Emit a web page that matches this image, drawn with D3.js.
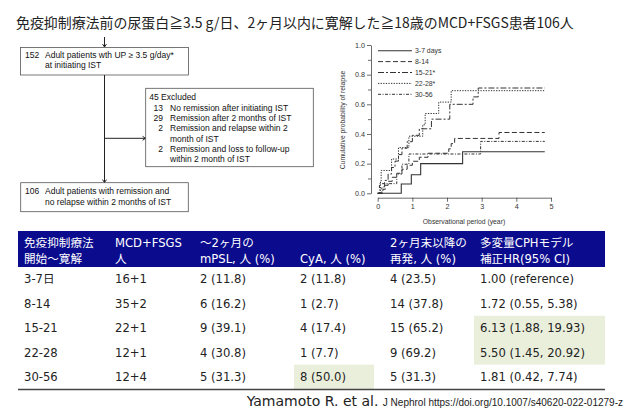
<!DOCTYPE html>
<html>
<head>
<meta charset="utf-8">
<script src="https://cdn.jsdelivr.net/npm/d3@7"></script>
<style>
  body { margin: 0; background: #fff; }
</style>
</head>
<body>
<svg id="slide" width="625" height="410"></svg>
<script>
// ---- data ----
const titleText = "免疫抑制療法前の尿蛋白≧3.5 g/日、2ヶ月以内に寛解した≧18歳のMCD+FSGS患者106人";

const topBox = ["152", "Adult patients wth UP ≥ 3.5 g/day*", "at initiating IST"];
const excludedHead = "45 Excluded";
const excludedCounts = ["13", "29", "2", "2"];
const excludedReasons = [
  ["No remission after initiating IST"],
  ["Remission after 2 months of IST"],
  ["Remission and relapse within 2", "month of IST"],
  ["Remission and loss to follow-up", "within 2 month of IST"]
];
const bottomBox = ["106", "Adult patients with remission and", "no relapse within 2 months of IST"];

// cumulative probability of relapse, [year, probability] step points
const groups = ["3-7 days", "8-14", "15-21*", "22-28*", "30-56"];
const relapse3to7 = [[0, 0], [0.68, 0.0625], [0.97, 0.125], [1.24, 0.2], [2.45, 0.28], [4.82, 0.28]];
const relapse8to14 = [[0, 0], [0.15, 0.027], [0.22, 0.054], [0.3, 0.081], [0.42, 0.108], [0.55, 0.135],
  [0.7, 0.162], [0.85, 0.189], [1.0, 0.216], [1.2, 0.243], [1.45, 0.27], [2.05, 0.3], [2.12, 0.335],
  [2.22, 0.37], [3.5, 0.41], [4.82, 0.41]];
const relapse15to21 = [[0, 0], [0.12, 0.043], [0.2, 0.087], [0.3, 0.13], [0.4, 0.174], [0.5, 0.217],
  [0.6, 0.261], [0.7, 0.304], [0.85, 0.348], [1.0, 0.391], [1.2, 0.435], [1.55, 0.5], [2.08, 0.6],
  [2.75, 0.65], [2.9, 0.71], [4.82, 0.71]];
const relapse22to28 = [[0, 0], [0.08, 0.077], [0.1, 0.154], [0.4, 0.231], [0.6, 0.308], [0.9, 0.385],
  [1.3, 0.462], [1.37, 0.538], [1.76, 0.615], [2.12, 0.692], [4.82, 0.692]];
const relapse30to56 = [[0, 0], [0.05, 0.065], [0.55, 0.13], [0.7, 0.196], [0.9, 0.265], [2.97, 0.35], [4.82, 0.35]];

const xTicks = [0, 1, 2, 3, 4, 5];
const yTicks = [0, 0.2, 0.4, 0.6, 0.8, 1.0];
const yMinorTicks = [0.1, 0.3, 0.5, 0.7, 0.9];

// table
const headerLine1 = ["免疫抑制療法", "MCD+FSGS", "～2ヶ月の", "", "2ヶ月末以降の", "多変量CPHモデル"];
const headerLine2 = ["開始～寛解", "人", "mPSL, 人 (%)", "CyA, 人 (%)", "再発, 人 (%)", "補正HR(95% CI)"];
const periods = ["3-7日", "8-14", "15-21", "22-28", "30-56"];
const patients = ["16+1", "35+2", "22+1", "12+1", "12+4"];
const mpsl = ["2 (11.8)", "6 (16.2)", "9 (39.1)", "4 (30.8)", "5 (31.3)"];
const cya = ["2 (11.8)", "1 (2.7)", "4 (17.4)", "1 (7.7)", "8 (50.0)"];
const relapses = ["4 (23.5)", "14 (37.8)", "15 (65.2)", "9 (69.2)", "5 (31.3)"];
const hazard = ["1.00 (reference)", "1.72 (0.55, 5.38)", "6.13 (1.88, 19.93)", "5.50 (1.45, 20.92)", "1.81 (0.42, 7.74)"];
// highlighted cells: column index, first row, row count
const highlights = [[5, 2, 2], [3, 4, 1]];

const citeMain = "Yamamoto R. et al. ";
const citeRef = "J Nephrol https://doi.org/10.1007/s40620-022-01279-z";

// ---- drawing ----
const svg = d3.select("#slide");
const CJK = "'Noto Sans CJK JP', sans-serif";
const TABLE_FONT = "'DejaVu Sans', 'Noto Sans CJK JP', sans-serif";
const FIG_FONT = "'Liberation Sans', Arial, sans-serif";

// title, fitted to its width on the slide
const title = svg.append("text")
  .attr("x", 16).attr("y", 28)
  .attr("fill", "#222")
  .style("font-family", CJK)
  .style("font-size", "15px")
  .text(titleText);
const tw = title.node().getComputedTextLength();
title.style("font-size", Math.max(13, Math.min(17, 15 * 558 / tw)) + "px");

/**
 * Flow chart
 */
const flow = svg.append("g")
  .style("font-family", FIG_FONT)
  .style("font-size", "8.5px")
  .attr("fill", "#111");

function box(x, y, w, h) {
  flow.append("rect")
    .attr("x", x).attr("y", y).attr("width", w).attr("height", h)
    .attr("fill", "none").attr("stroke", "#555").attr("stroke-width", 0.8);
}

function arrowLine(x1, y1, x2, y2) {
  flow.append("line")
    .attr("x1", x1).attr("y1", y1).attr("x2", x2).attr("y2", y2)
    .attr("stroke", "#222").attr("stroke-width", 1);
  const a = Math.atan2(y2 - y1, x2 - x1);
  const s = 3.5;
  const p1 = [x2 - s * Math.cos(a - 0.6), y2 - s * Math.sin(a - 0.6)];
  const p2 = [x2 - s * Math.cos(a + 0.6), y2 - s * Math.sin(a + 0.6)];
  flow.append("path")
    .attr("d", `M${p1}L${x2},${y2}L${p2}`)
    .attr("fill", "none").attr("stroke", "#222").attr("stroke-width", 1);
}

box(20.5, 47.5, 168, 27.5);
flow.append("text").attr("x", 25).attr("y", 58).text(topBox[0]);
flow.append("text").attr("x", 45).attr("y", 58).text(topBox[1]);
flow.append("text").attr("x", 45).attr("y", 67.6).text(topBox[2]);

arrowLine(104.5, 37, 104.5, 47);
arrowLine(104.5, 75, 104.5, 182.5);
arrowLine(104.5, 138.3, 145.5, 138.3);

box(145.7, 88.3, 167.6, 78.4);
flow.append("text").attr("x", 149.3).attr("y", 99.8).text(excludedHead);
let ly = 110.8;
excludedCounts.forEach((c, i) => {
  flow.append("text").attr("x", 163).attr("y", ly).attr("text-anchor", "end").text(c);
  excludedReasons[i].forEach(line => {
    flow.append("text").attr("x", 170).attr("y", ly).text(line);
    ly += 10.3;
  });
});

box(20.7, 182.7, 167.6, 29);
flow.append("text").attr("x", 25).attr("y", 194).text(bottomBox[0]);
flow.append("text").attr("x", 45).attr("y", 194).text(bottomBox[1]);
flow.append("text").attr("x", 45).attr("y", 205).text(bottomBox[2]);

/**
 * Cumulative relapse chart
 */
const chart = svg.append("g").style("font-family", FIG_FONT);
const x = d3.scaleLinear().domain([0, 5]).range([377.7, 551]);
const y = d3.scaleLinear().domain([0, 1]).range([193.3, 45]);

function styleAxis(g) {
  g.selectAll("path, line").attr("stroke", "#444").attr("stroke-width", 0.8);
  g.selectAll("text").attr("fill", "#333").style("font-size", "7.2px").style("font-family", FIG_FONT);
}

chart.append("g")
  .attr("transform", "translate(371,0)")
  .call(d3.axisLeft(y).tickValues(yTicks).tickFormat(d3.format(".1f")).tickSize(4).tickSizeOuter(0).tickPadding(2))
  .call(styleAxis);

chart.append("g")
  .attr("transform", "translate(371,0)")
  .call(d3.axisLeft(y).tickValues(yMinorTicks).tickFormat("").tickSize(3).tickSizeOuter(0))
  .call(g => g.select(".domain").remove())
  .call(styleAxis);

chart.append("g")
  .attr("transform", "translate(0,197.7)")
  .call(d3.axisBottom(x).tickValues(xTicks).tickFormat(d3.format("d")).tickSize(4).tickSizeOuter(0).tickPadding(2))
  .call(styleAxis);

chart.append("text")
  .attr("transform", "translate(345,120) rotate(-90)")
  .attr("text-anchor", "middle")
  .attr("fill", "#333")
  .style("font-size", "6.8px")
  .text("Cumulative probability of relapse");

chart.append("text")
  .attr("x", 464).attr("y", 224)
  .attr("text-anchor", "middle")
  .attr("fill", "#333")
  .style("font-size", "6.8px")
  .text("Observational period (year)");

const series = [relapse3to7, relapse8to14, relapse15to21, relapse22to28, relapse30to56];
const dashes = [null, "5,2.5", "6,2,2,2", "1.3,1.3", "3,1.5,1,1.5"];

const line = d3.line()
  .x(d => x(d[0]))
  .y(d => y(d[1]))
  .curve(d3.curveStepAfter);

series.forEach((s, i) => {
  chart.append("path")
    .datum(s)
    .attr("fill", "none")
    .attr("stroke", "#333")
    .attr("stroke-width", i === 0 ? 1.1 : 1)
    .attr("stroke-dasharray", dashes[i])
    .attr("d", line);
});

// legend
const legend = chart.append("g");
groups.forEach((gname, i) => {
  const ry = 50.7 + i * 10.9;
  legend.append("line")
    .attr("x1", 378).attr("x2", 412).attr("y1", ry).attr("y2", ry)
    .attr("stroke", "#333").attr("stroke-width", i === 0 ? 1.1 : 1)
    .attr("stroke-dasharray", dashes[i]);
  legend.append("text")
    .attr("x", 415).attr("y", ry + 2.4)
    .attr("fill", "#333")
    .style("font-size", "6.9px")
    .text(gname);
});

/**
 * Table
 */
const table = svg.append("g").style("font-family", TABLE_FONT).style("font-size", "11.6px");
const colX = [24, 115, 200, 300, 390, 480];
const tableLeft = 18, tableRight = 605;
const headerTop = 231, headerBottom = 267;
const rowY = d3.scaleBand().domain(d3.range(periods.length)).range([headerBottom, 389]);

table.append("rect")
  .attr("x", tableLeft).attr("y", headerTop)
  .attr("width", tableRight - tableLeft).attr("height", headerBottom - headerTop)
  .attr("fill", "#0b0b8e");

highlights.forEach(([c, r, n]) => {
  const right = c + 1 < colX.length ? colX[c + 1] - 16 : tableRight;
  table.append("rect")
    .attr("x", colX[c] - 6).attr("y", rowY(r))
    .attr("width", right - colX[c] + 6).attr("height", rowY.bandwidth() * n)
    .attr("fill", "#eaefdc");
});

[headerLine1, headerLine2].forEach((hl, k) => {
  hl.forEach((t, c) => {
    table.append("text")
      .attr("x", colX[c]).attr("y", 247 + k * 16)
      .attr("fill", "#fff")
      .text(t);
  });
});

const columns = [periods, patients, mpsl, cya, relapses, hazard];
columns.forEach((col, c) => {
  table.selectAll(null)
    .data(col)
    .join("text")
    .attr("x", colX[c])
    .attr("y", (d, i) => rowY(i) + rowY.bandwidth() / 2 + 4.2)
    .attr("fill", "#222")
    .text(d => d);
});

table.append("line")
  .attr("x1", tableLeft).attr("x2", tableRight)
  .attr("y1", 389.5).attr("y2", 389.5)
  .attr("stroke", "#444").attr("stroke-width", 1.3);

// citation, right-aligned against the slide edge
const cite = svg.append("text")
  .attr("y", 405.5)
  .attr("fill", "#222");
cite.append("tspan")
  .style("font-family", "'DejaVu Sans', sans-serif")
  .style("font-size", "14px")
  .text(citeMain);
cite.append("tspan")
  .style("font-family", FIG_FONT)
  .style("font-size", "10px")
  .text(citeRef);
cite.attr("x", 623 - cite.node().getComputedTextLength());
</script>
</body>
</html>
